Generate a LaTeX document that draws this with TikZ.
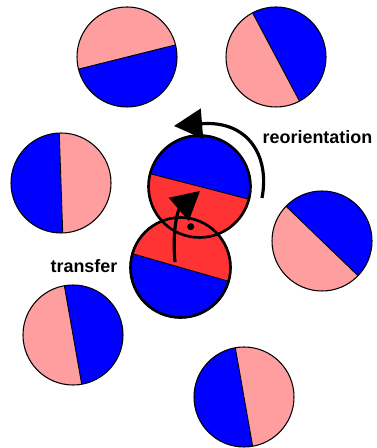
\documentclass[tikz,border=0pt]{standalone}
\usepackage{fontspec}
\setmainfont{Liberation Sans}
\usepackage{tikz}
\usetikzlibrary{arrows.meta}
\definecolor{pinkhalf}{RGB}{255,158,158}
\definecolor{redhalf}{RGB}{255,51,51}
\definecolor{bluehalf}{RGB}{0,0,255}

\begin{document}
\begin{tikzpicture}[x=0.02cm, y=0.02cm, >={Triangle[length=16pt, width=17pt]}]

  \useasboundingbox (0,0) rectangle (376,448);
  \def\rad{50}

  % ── surrounding molecules (half blue, half pink) ─────────────────────────
  \foreach \cx/\cy/\ang/\ca/\cb in {127/391/14/pinkhalf/bluehalf,
                                    276/391/-62/bluehalf/pinkhalf,
                                    61/265/92/bluehalf/pinkhalf,
                                    322/207/-44/bluehalf/pinkhalf,
                                    73/113/100/pinkhalf/bluehalf,
                                    244/51/100/bluehalf/pinkhalf}{
    \begin{scope}[shift={(\cx,\cy)}, rotate=\ang]
      \clip (0,0) circle (\rad);
      \fill[\ca] (-60,0) rectangle (60,60);
      \fill[\cb] (-60,-60) rectangle (60,0);
      \draw[line width=0.5pt] (-60,0) -- (60,0);
    \end{scope}
    \draw[line width=0.6pt] (\cx,\cy) circle (\rad);
  }

  % ── the pair in contact ──────────────────────────────────────────────────
  \foreach \cx/\cy/\ang/\ca/\cb in {180.5/180.5/-16/redhalf/bluehalf,
                                    199.5/261.5/-14.5/bluehalf/redhalf}{
    \begin{scope}[shift={(\cx,\cy)}, rotate=\ang]
      \clip (0,0) circle (51);
      \fill[\ca] (-60,0) rectangle (60,60);
      \fill[\cb] (-60,-60) rectangle (60,0);
      \draw[line width=0.5pt] (-60,0) -- (60,0);
    \end{scope}
  }
  \draw[line width=1.5pt] (180.5,180.5) circle (50);
  \draw[line width=1.5pt] (199.5,261.5) circle (51);
  \fill (190.7,221.3) circle (3.5);

  % ── transfer and reorientation arrows ────────────────────────────────────
  \coordinate (t0) at (175,186);
  \coordinate (t1) at (200,257);
  \draw[->, line width=1.8pt] (t0) .. controls (172,218) and (178,238) .. (t1);

  \coordinate (r0) at (262,250);
  \coordinate (r1) at (174,322);
  \draw[->, line width=1.8pt] (r0) .. controls (270,292) and (248,328) .. (r1);

  \node[font=\fontsize{10.2}{12}\selectfont\bfseries] (reor) at (317.5,311) {reorientation};
  \node[font=\fontsize{10.2}{12}\selectfont\bfseries] (trans) at (84,181.5) {transfer};

\end{tikzpicture}
\end{document}
